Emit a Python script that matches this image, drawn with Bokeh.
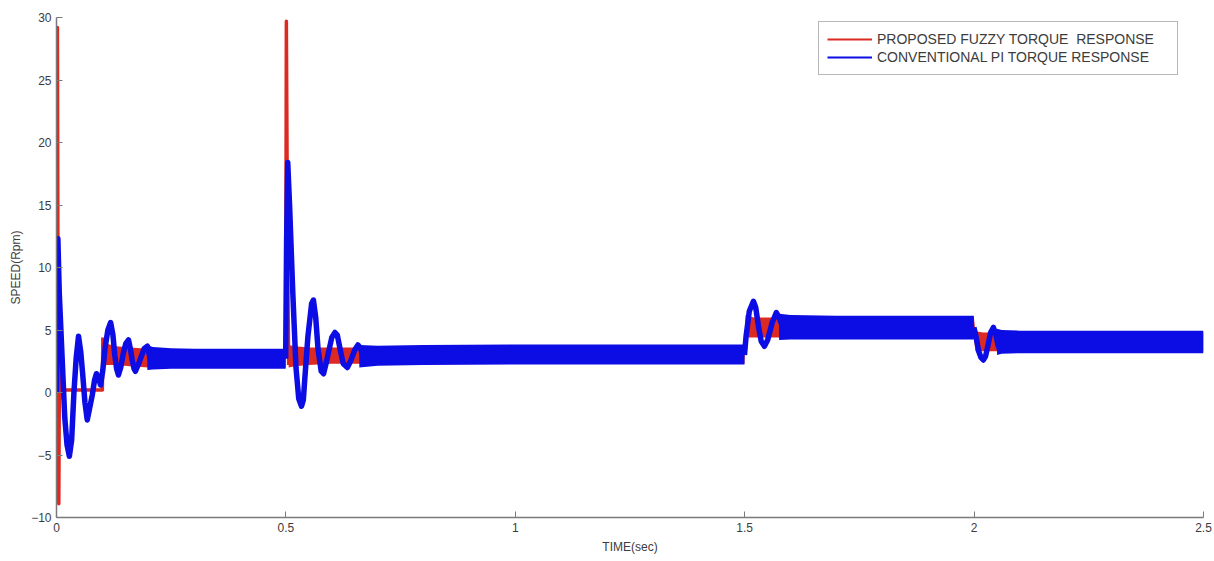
import math
from bokeh.plotting import figure
from bokeh.models import Range1d, FixedTicker, Legend, LegendItem
from bokeh.embed import file_html
from bokeh.resources import INLINE

nan = float("nan")

# ---------------- data ----------------
x_ticks = [0, 0.5, 1, 1.5, 2, 2.5]
y_ticks = [-10, -5, 0, 5, 10, 15, 20, 25, 30]

series_names = ["PROPOSED FUZZY TORQUE  RESPONSE", "CONVENTIONAL PI TORQUE RESPONSE"]

# Proposed fuzzy: transient traces (time s, speed)
fuzzy_t = [0, 0.002, 0.0035, 0.005, 0.0065, 0.009, 0.012, 0.1, 0.101,
           nan,
           0.4995, 0.501, 0.5035, 0.506]
fuzzy_v = [0, 29.2, 5.0, -8.9, 3.0, 1.5, 0.2, 0.2, 4.4,
           nan,
           3.0, 29.7, 12.0, 2.2]
# Proposed fuzzy: envelope of the fast ripple band
fuzzy_band_t = [0.101, 0.11, 0.13, 0.16, 0.2, 0.3, 0.4995,
                nan,
                0.506, 0.52, 0.55, 0.6, 0.7, 1.0, 1.4995, 1.502, 1.52, 1.55, 1.6, 1.9995,
                2.003, 2.02, 2.05, 2.2, 2.5]
fuzzy_band_lo = [2.1, 2.2, 2.2, 2.1, 2.0, 2.0, 2.0,
                 nan,
                 2.0, 2.1, 2.2, 2.3, 2.3, 2.3, 2.3, 4.4, 4.4, 4.4, 4.4, 4.4,
                 3.3, 3.3, 3.3, 3.3, 3.3]
fuzzy_band_hi = [4.4, 3.9, 3.7, 3.6, 3.5, 3.45, 3.45,
                 nan,
                 3.8, 3.7, 3.6, 3.6, 3.6, 3.7, 3.7, 6.2, 6.0, 6.0, 6.0, 6.0,
                 4.9, 4.8, 4.8, 4.8, 4.8]

# Conventional PI: transient traces
pi_t = [0, 0.003, 0.006, 0.012, 0.018, 0.023, 0.028, 0.033, 0.038, 0.043, 0.048,
        0.053, 0.057, 0.062, 0.067, 0.072, 0.078, 0.083, 0.087, 0.092, 0.096,
        0.101, 0.106, 0.112, 0.118, 0.123, 0.127, 0.131, 0.135, 0.14, 0.146,
        0.151, 0.157, 0.161, 0.165, 0.169, 0.172, 0.178, 0.185, 0.191, 0.198, 0.205,
        nan,
        0.4995, 0.5015, 0.504, 0.508, 0.515, 0.522, 0.528, 0.534, 0.538, 0.541,
        0.548, 0.556, 0.56, 0.565, 0.57, 0.577, 0.582, 0.588, 0.6, 0.607, 0.612,
        0.618, 0.625, 0.634, 0.642, 0.65, 0.657, 0.663, 0.67, 0.677,
        nan,
        1.4995, 1.503, 1.51, 1.519, 1.524, 1.53, 1.536, 1.543, 1.55, 1.56, 1.569,
        1.575, 1.582,
        nan,
        1.9995, 2.004, 2.01, 2.015, 2.02, 2.025, 2.031, 2.036, 2.042, 2.047, 2.052, 2.057]
pi_v = [0, 12.3, 8.0, 3.0, -2.0, -4.2, -5.1, -3.8, 0.0, 2.8, 4.5,
        3.2, 1.5, -0.8, -2.2, -1.3, -0.2, 1.0, 1.5, 1.1, 0.6,
        1.8, 3.6, 5.0, 5.6, 4.6, 3.0, 1.9, 1.4, 2.0, 3.2,
        3.9, 4.2, 3.5, 2.6, 1.9, 1.7, 2.2, 2.9, 3.5, 3.7, 2.6,
        nan,
        2.7, 12.0, 18.4, 15.0, 8.0, 2.0, -0.5, -1.1, -0.6, 1.0,
        4.5, 7.1, 7.4, 6.0, 3.5, 1.7, 1.5, 2.4, 4.4, 4.8, 4.6,
        3.5, 2.3, 2.0, 2.6, 3.4, 3.8, 3.5, 2.6, 2.4,
        nan,
        3.0, 4.5, 6.5, 7.3, 6.8, 5.3, 4.1, 3.7, 4.2, 5.6, 6.4,
        6.0, 5.3,
        nan,
        5.2, 4.5, 3.3, 2.8, 2.6, 2.9, 3.9, 4.8, 5.2, 4.7, 3.8, 3.3]
# Conventional PI: envelope of the fast ripple band
pi_band_t = [0.198, 0.21, 0.25, 0.3, 0.4, 0.4995,
             nan,
             0.66, 0.7, 0.8, 1.0, 1.2, 1.4995,
             nan,
             1.575, 1.6, 1.7, 1.8, 1.9, 1.9995,
             nan,
             2.05, 2.06, 2.1, 2.3, 2.5]
pi_band_lo = [1.8, 1.85, 1.9, 1.9, 1.9, 1.9,
              nan,
              2.0, 2.15, 2.2, 2.25, 2.25, 2.25,
              nan,
              4.2, 4.25, 4.25, 4.25, 4.25, 4.25,
              nan,
              3.0, 3.1, 3.15, 3.15, 3.15]
pi_band_hi = [3.8, 3.65, 3.55, 3.5, 3.5, 3.5,
              nan,
              3.8, 3.75, 3.8, 3.85, 3.85, 3.85,
              nan,
              6.3, 6.2, 6.15, 6.15, 6.15, 6.15,
              nan,
              5.1, 5.0, 4.95, 4.95, 4.95]

RED = "#dc2a22"
BLUE = "#0c0ce4"
FONT = "Liberation Sans"
TXT = "#3c3c3c"


def segments(*cols):
    """Split parallel lists at NaN separators."""
    out, cur = [], [[] for _ in cols]
    for vals in zip(*cols):
        if any(isinstance(v, float) and math.isnan(v) for v in vals):
            if cur[0]:
                out.append(cur)
            cur = [[] for _ in cols]
        else:
            for c, v in zip(cur, vals):
                c.append(v)
    if cur[0]:
        out.append(cur)
    return out


p = figure(width=1214, height=561, output_backend="svg", toolbar_location=None,
           x_range=Range1d(0, 2.5), y_range=Range1d(-10, 30),
           min_border_left=56, min_border_right=11, min_border_top=17,
           min_border_bottom=44)
p.outline_line_color = None
p.xgrid.visible = False
p.ygrid.visible = False
p.background_fill_color = "white"
p.border_fill_color = "white"

# fuzzy (drawn first, underneath)
for bt, lo, hi in segments(fuzzy_band_t, fuzzy_band_lo, fuzzy_band_hi):
    p.varea(x=bt, y1=lo, y2=hi, fill_color=RED)
for st, sv in segments(fuzzy_t, fuzzy_v):
    p.line(st, sv, line_color=RED, line_width=3.5, line_join="round")

# PI (on top)
for bt, lo, hi in segments(pi_band_t, pi_band_lo, pi_band_hi):
    p.varea(x=bt, y1=lo, y2=hi, fill_color=BLUE)
for st, sv in segments(pi_t, pi_v):
    p.line(st, sv, line_color=BLUE, line_width=5.5, line_join="round")

# legend sample glyphs (placed outside the visible range)
leg_r = p.line([-1, -0.9], [-20, -20], line_color=RED, line_width=2)
leg_b = p.line([-1, -0.9], [-20, -20], line_color=BLUE, line_width=2)
legend = Legend(items=[LegendItem(label=series_names[0], renderers=[leg_r]),
                       LegendItem(label=series_names[1], renderers=[leg_b])],
                location=(762, 442), orientation="vertical")
legend.border_line_color = "#6f6f6f"
legend.border_line_width = 1
legend.background_fill_color = "white"
legend.background_fill_alpha = 1
legend.label_text_font = FONT
legend.label_text_font_size = "14px"
legend.label_text_color = TXT
legend.glyph_width = 45
legend.glyph_height = 18
legend.label_height = 18
legend.label_width = 292
legend.label_standoff = 5
legend.spacing = 0
legend.padding = 8
legend.margin = 0
p.add_layout(legend)

for ax in (p.xaxis[0], p.yaxis[0]):
    ax.axis_line_color = "#7a7a7a"
    ax.axis_line_width = 1.5
    ax.major_tick_line_color = "#7a7a7a"
    ax.major_tick_in = 6
    ax.major_tick_out = 0
    ax.minor_tick_line_color = None
    ax.major_label_text_font = FONT
    ax.major_label_text_font_size = "12px"
    ax.major_label_text_color = TXT
    ax.axis_label_text_font = FONT
    ax.axis_label_text_font_size = "12px"
    ax.axis_label_text_font_style = "normal"
    ax.axis_label_text_color = TXT
    ax.major_label_standoff = 5
    ax.axis_label_standoff = 5

p.xaxis.ticker = FixedTicker(ticks=x_ticks)
p.yaxis.ticker = FixedTicker(ticks=y_ticks)
p.xaxis.axis_label = "TIME(sec)"
p.yaxis.axis_label = "SPEED(Rpm)"

open("out.html", "w").write(file_html(p, INLINE))
